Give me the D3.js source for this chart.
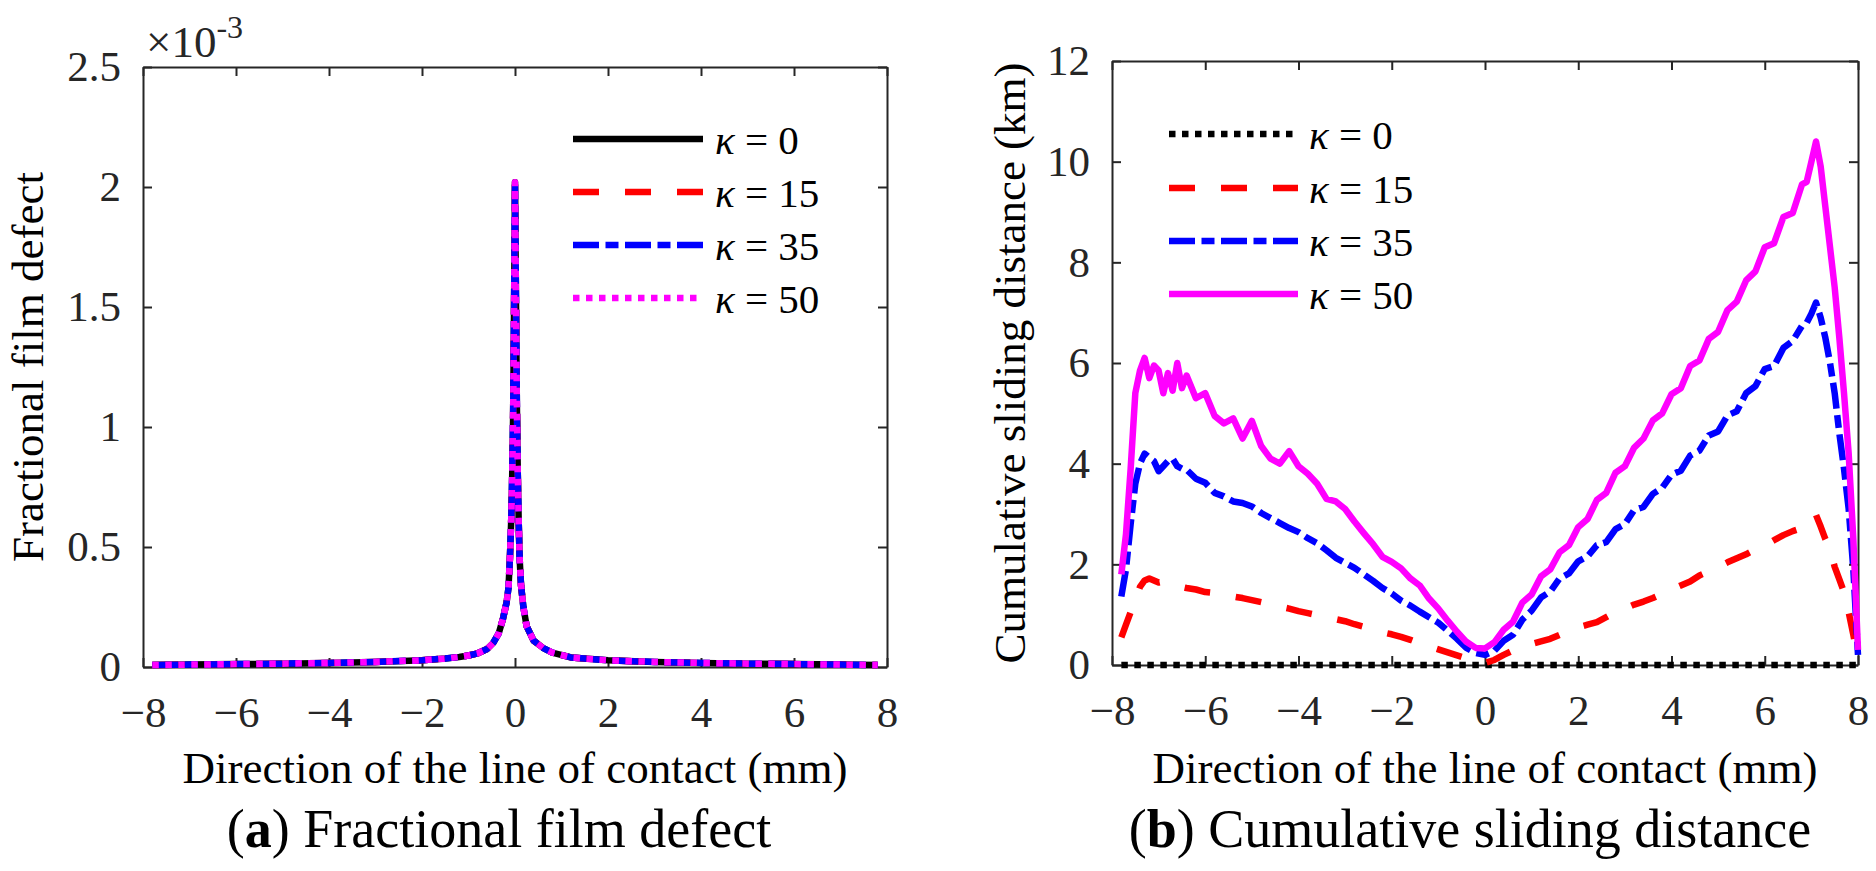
<!DOCTYPE html>
<html>
<head>
<meta charset="utf-8">
<script src="https://cdn.jsdelivr.net/npm/d3@7"></script>
<style>
  body { margin: 0; background: #fff; }
  text { font-family: "Liberation Serif", "Times New Roman", serif; }
</style>
</head>
<body>
<div id="chart"></div>
<script>
// ---- data ----
var kappaLabels = ['0', '15', '35', '50'];
var xTicks = [-8, -6, -4, -2, 0, 2, 4, 6, 8];
var defectTicks = [0, 0.5, 1, 1.5, 2, 2.5];   // x 10^-3
var slideTicks = [0, 2, 4, 6, 8, 10, 12];

// (a) fractional film defect (x 10^-3), the four kappa curves overlap
var filmX = [-7.8, -7, -6, -5, -4, -3, -2, -1.5, -1.2, -1, -0.8, -0.6,
  -0.47, -0.35, -0.26, -0.18, -0.14, -0.11, -0.08, -0.06, -0.04, -0.02, 0,
  0.02, 0.04, 0.06, 0.08, 0.1, 0.13, 0.18, 0.25, 0.4, 0.6, 0.8, 1.2, 1.5,
  2, 3, 4, 5, 6, 7, 7.8];
var filmK0 = [0.008, 0.010, 0.012, 0.014, 0.017, 0.021, 0.028, 0.035, 0.042, 0.048, 0.057, 0.075,
  0.10, 0.14, 0.20, 0.27, 0.33, 0.45, 0.62, 0.80, 1.05, 1.5, 2.02,
  1.55, 1.1, 0.8, 0.6, 0.45, 0.34, 0.25, 0.17, 0.11, 0.08, 0.06, 0.04, 0.035,
  0.028, 0.021, 0.017, 0.014, 0.012, 0.010, 0.008];
var filmK15 = filmK0, filmK35 = filmK0, filmK50 = filmK0;

// (b) cumulative sliding distance (km)
var slideX = [-7.8, -7.7, -7.6, -7.5, -7.4, -7.3, -7.2, -7.1, -7.0, -6.9, -6.8, -6.7, -6.6, -6.5, -6.4,
  -6.2, -6.0, -5.8, -5.6, -5.4, -5.2, -5.0, -4.8, -4.6, -4.4, -4.2, -4.0, -3.8, -3.6, -3.4, -3.2,
  -3.0, -2.8, -2.6, -2.4, -2.2, -2.0, -1.8, -1.6, -1.4, -1.2, -1.0, -0.8, -0.6, -0.4, -0.2, 0.0,
  0.2, 0.4, 0.6, 0.8, 1.0, 1.2, 1.4, 1.6, 1.8, 2.0, 2.2, 2.4, 2.6, 2.8, 3.0, 3.2, 3.4, 3.6, 3.8,
  4.0, 4.2, 4.4, 4.6, 4.8, 5.0, 5.2, 5.4, 5.6, 5.8, 6.0, 6.2, 6.4, 6.6, 6.8, 6.9, 7.0, 7.1, 7.2,
  7.3, 7.4, 7.5, 7.6, 7.7, 7.8, 7.9, 8.0];
var slideK0X = [-7.8, 8.0];
var slideK0 = [0, 0];
var slideK15 = [0.55, 0.8, 1.05, 1.3, 1.55, 1.68, 1.72, 1.68, 1.64, 1.66, 1.62, 1.6, 1.57, 1.55, 1.53,
  1.5, 1.45, 1.43, 1.4, 1.36, 1.33, 1.29, 1.25, 1.2, 1.16, 1.12, 1.07, 1.03, 0.99, 0.95, 0.91,
  0.87, 0.81, 0.76, 0.7, 0.65, 0.61, 0.56, 0.5, 0.43, 0.37, 0.31, 0.25, 0.19, 0.13, 0.07, 0.04,
  0.1, 0.2, 0.29, 0.36, 0.42, 0.47, 0.52, 0.6, 0.69, 0.75, 0.8, 0.85, 0.95, 1.05, 1.12, 1.2, 1.26, 1.33, 1.41,
  1.5, 1.58, 1.66, 1.78, 1.86, 1.95, 2.04, 2.12, 2.2, 2.3, 2.37, 2.48, 2.58, 2.66, 2.72, 2.78, 2.82, 2.98, 2.75,
  2.5, 2.3, 1.95, 1.7, 1.45, 1.05, 0.6, 0.1];
var slideK35 = [1.36, 1.9, 2.8, 3.6, 4.0, 4.2, 4.12, 4.05, 3.85, 3.95, 4.05, 4.1, 3.95, 3.9, 3.88,
  3.7, 3.62, 3.42, 3.35, 3.25, 3.22, 3.15, 3.02, 2.92, 2.82, 2.72, 2.64, 2.52, 2.42, 2.28, 2.13,
  2.03, 1.93, 1.8, 1.67, 1.53, 1.42, 1.28, 1.18, 1.06, 0.95, 0.84, 0.68, 0.52, 0.34, 0.24, 0.2,
  0.28, 0.48, 0.6, 0.9, 1.08, 1.34, 1.46, 1.72, 1.82, 2.06, 2.16, 2.38, 2.44, 2.7, 2.8, 3.08, 3.14, 3.4, 3.52,
  3.78, 3.86, 4.16, 4.26, 4.56, 4.64, 4.96, 5.04, 5.4, 5.54, 5.88, 5.94, 6.3, 6.44, 6.74, 6.8, 6.98, 7.2, 6.9,
  6.5, 6.0, 5.4, 4.6, 3.9, 3.1, 1.9, 0.2];
var slideK50 = [1.8, 2.6, 3.9, 5.4, 5.85, 6.1, 5.7, 5.95, 5.85, 5.4, 5.8, 5.45, 6.0, 5.5, 5.75,
  5.3, 5.4, 4.95, 4.8, 4.9, 4.5, 4.85, 4.35, 4.1, 4.0, 4.25, 3.95, 3.8, 3.6, 3.3, 3.25,
  3.1, 2.85, 2.62, 2.4, 2.15, 2.05, 1.92, 1.72, 1.58, 1.32, 1.12, 0.88, 0.66, 0.46, 0.34, 0.33,
  0.45, 0.7, 0.86, 1.24, 1.4, 1.76, 1.9, 2.24, 2.38, 2.74, 2.9, 3.28, 3.42, 3.82, 3.95, 4.32, 4.5, 4.86, 5.0,
  5.38, 5.5, 5.94, 6.05, 6.48, 6.62, 7.05, 7.22, 7.64, 7.82, 8.3, 8.38, 8.9, 8.98, 9.55, 9.6, 10.0, 10.4, 9.9,
  9.1, 8.3, 7.5, 6.5, 5.4, 4.2, 2.5, 0.3];

// ---- setup ----
var width = 1876, height = 871;
var axisColor = '#262626';
var lw = 6.5;
var colors = ['#000000', '#ff0000', '#0000ff', '#ff00ff'];
var dashSolid = null, dashDash = '26 26', dashDot = '26 6.5 13 6.5', dashDotted = '6.5 6.5';

var svg = d3.select('#chart').append('svg')
    .attr('width', width).attr('height', height);
svg.append('rect').attr('width', width).attr('height', height).attr('fill', '#fff');

function fmtX(d) { return d < 0 ? '\u2212' + Math.abs(d) : '' + d; }

// draws box with inward ticks on all sides
function drawAxes(x, y, yTicks) {
    var g = svg.append('g');
    var x0 = x.range()[0], x1 = x.range()[1];
    var y0 = y.range()[0], y1 = y.range()[1];

    g.append('g').attr('transform', 'translate(0,' + y0 + ')')
        .call(d3.axisBottom(x).tickValues(xTicks).tickFormat(fmtX)
            .tickSizeInner(-9).tickSizeOuter(0).tickPadding(29));
    g.append('g').attr('transform', 'translate(0,' + y1 + ')')
        .call(d3.axisTop(x).tickValues(xTicks).tickFormat('')
            .tickSizeInner(-9).tickSizeOuter(0));
    g.append('g').attr('transform', 'translate(' + x0 + ',0)')
        .call(d3.axisLeft(y).tickValues(yTicks).tickFormat(d3.format('~g'))
            .tickSizeInner(-9).tickSizeOuter(0).tickPadding(22));
    g.append('g').attr('transform', 'translate(' + x1 + ',0)')
        .call(d3.axisRight(y).tickValues(yTicks).tickFormat('')
            .tickSizeInner(-9).tickSizeOuter(0));

    g.selectAll('.domain').attr('stroke', axisColor).attr('stroke-width', 2);
    g.selectAll('.tick line').attr('stroke', axisColor).attr('stroke-width', 2);
    g.selectAll('.tick text').attr('fill', axisColor)
        .style('font-family', '"Liberation Serif", serif').style('font-size', '43px');
    return g;
}

function drawCurve(x, y, xs, ys, color, dash) {
    var line = d3.line()
        .x(function(d) { return x(d[0]); })
        .y(function(d) { return y(d[1]); });
    svg.append('path')
        .datum(xs.map(function(v, i) { return [v, ys[i]]; }))
        .attr('d', line)
        .attr('fill', 'none')
        .attr('stroke', color)
        .attr('stroke-width', lw)
        .attr('stroke-linejoin', 'round')
        .attr('stroke-dasharray', dash);
}

function drawLegend(lx0, lx1, rowY, dashes, tx) {
    kappaLabels.forEach(function(k, i) {
        svg.append('line')
            .attr('x1', lx0).attr('x2', lx1)
            .attr('y1', rowY[i]).attr('y2', rowY[i])
            .attr('stroke', colors[i]).attr('stroke-width', lw)
            .attr('stroke-dasharray', dashes[i]);
        var t = svg.append('text')
            .attr('x', tx).attr('y', rowY[i] + 15)
            .attr('font-size', '41px').attr('fill', '#000');
        t.append('tspan').attr('font-style', 'italic').text('\u03ba');
        t.append('tspan').text(' = ' + k);
    });
}

function addText(x, y, str, size, rotate) {
    var t = svg.append('text')
        .attr('text-anchor', 'middle')
        .attr('font-size', size + 'px')
        .attr('fill', '#000');
    if (rotate) t.attr('transform', 'translate(' + x + ',' + y + ') rotate(-90)');
    else t.attr('x', x).attr('y', y);
    t.text(str);
    return t;
}

// ---- (a) fractional film defect ----
var xa = d3.scaleLinear().domain([-8, 8]).range([143, 887]);
var ya = d3.scaleLinear().domain([0, 2.5]).range([667, 67]);
drawAxes(xa, ya, defectTicks);

drawCurve(xa, ya, filmX, filmK0, colors[0], dashSolid);
drawCurve(xa, ya, filmX, filmK15, colors[1], dashDash);
drawCurve(xa, ya, filmX, filmK35, colors[2], dashDot);
drawCurve(xa, ya, filmX, filmK50, colors[3], dashDotted);

drawLegend(573, 703, [139, 192, 245, 298], [dashSolid, dashDash, dashDot, dashDotted], 715);

// x10^-3 multiplier
var mult = svg.append('text').attr('x', 146).attr('y', 57)
    .attr('font-size', '45px').attr('fill', axisColor);
mult.append('tspan').text('\u00d710');
mult.append('tspan').attr('dy', -19).attr('font-size', '32px').text('-3');

addText(515, 783, 'Direction of the line of contact (mm)', 45);
addText(43, 367, 'Fractional film defect', 45, true);
var capA = addText(499, 847, '', 54);
capA.append('tspan').text('(');
capA.append('tspan').attr('font-weight', 'bold').text('a');
capA.append('tspan').text(') Fractional film defect');

// ---- (b) cumulative sliding distance ----
var xb = d3.scaleLinear().domain([-8, 8]).range([1112, 1858]);
var yb = d3.scaleLinear().domain([0, 12]).range([665, 61]);
drawAxes(xb, yb, slideTicks);

drawCurve(xb, yb, slideK0X, slideK0, colors[0], dashDotted);
drawCurve(xb, yb, slideX, slideK15, colors[1], dashDash);
drawCurve(xb, yb, slideX, slideK35, colors[2], dashDot);
drawCurve(xb, yb, slideX, slideK50, colors[3], dashSolid);

drawLegend(1169, 1298, [134, 188, 241, 294], [dashDotted, dashDash, dashDot, dashSolid], 1309);

addText(1485, 783, 'Direction of the line of contact (mm)', 45);
addText(1025, 363, 'Cumulative sliding distance (km)', 45, true);
var capB = addText(1470, 847, '', 54);
capB.append('tspan').text('(');
capB.append('tspan').attr('font-weight', 'bold').text('b');
capB.append('tspan').text(') Cumulative sliding distance');
</script>
</body>
</html>
